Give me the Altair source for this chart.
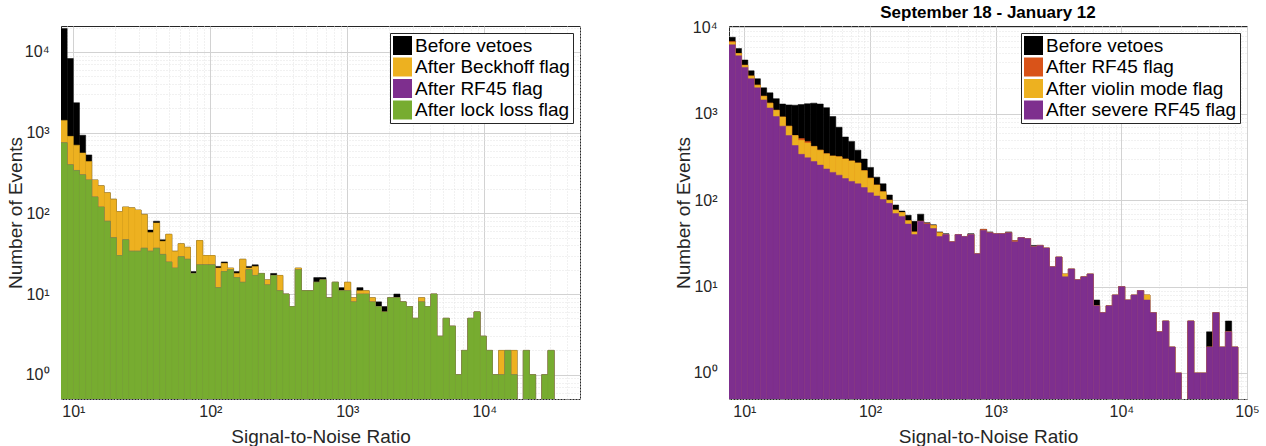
import math

import altair as alt
import pandas as pd

FONT = "Liberation Sans"
TEXT = "#262626"

# ---------------------------------------------------------------------------
# Left panel: event counts per logarithmic SNR bin (80 bins, 0.045 dex wide)
# ---------------------------------------------------------------------------
left_log_start = 0.91
left_log_width = 0.045
left_names = ["Before vetoes", "After Beckhoff flag", "After RF45 flag", "After lock loss flag"]
left_colors = ["#000000", "#EDB120", "#7E2F8E", "#77AC30"]

left_before = [
    19600, 8300, 2350, 930, 530, 260, 220, 180, 150, 105,
    120, 117, 110, 97, 62, 80, 47, 55, 34, 42,
    38, 19, 46, 30, 30, 22, 25, 21, 19, 27,
    22, 23, 18, 15, 18, 17, 10, 7, 21, 11,
    11, 16, 16, 9, 14, 12, 14, 9, 12, 11,
    9, 8, 7, 9, 10, 8, 7, 5, 9, 7,
    10, 3, 5, 4, 1, 2, 5, 6, 3, 2,
    1, 2, 2, 2, 0, 2, 1, 0, 1, 2,
]
left_beckhoff = [
    1420, 900, 700, 560, 440, 260, 220, 180, 150, 105,
    120, 117, 110, 97, 58, 76, 45, 55, 34, 42,
    38, 18, 46, 30, 30, 21, 24, 21, 18, 27,
    21, 22, 18, 15, 17, 17, 10, 7, 21, 11,
    11, 14, 15, 9, 14, 11, 14, 9, 11, 11,
    9, 7, 6, 9, 9, 8, 7, 5, 9, 7,
    10, 3, 5, 4, 1, 2, 5, 6, 3, 2,
    1, 2, 2, 2, 0, 2, 1, 0, 1, 2,
]
left_rf45 = [
    750, 400, 340, 300, 260, 160, 120, 80, 50, 30,
    47, 34, 34, 37, 34, 37, 31, 25, 21, 29,
    27, 18, 23, 23, 23, 12, 19, 20, 16, 14,
    20, 17, 18, 13, 17, 11, 10, 7, 20, 11,
    11, 14, 15, 9, 14, 11, 11, 8, 10, 10,
    8, 7, 6, 9, 9, 8, 7, 5, 8, 7,
    10, 3, 5, 4, 1, 2, 5, 6, 3, 2,
    1, 1, 2, 1, 0, 2, 1, 0, 1, 2,
]
left_lockloss = [
    750, 400, 340, 300, 260, 160, 120, 80, 50, 30,
    47, 34, 34, 37, 34, 37, 31, 25, 21, 29,
    27, 18, 23, 23, 23, 12, 19, 20, 16, 14,
    20, 17, 18, 13, 17, 11, 10, 7, 20, 11,
    11, 14, 15, 9, 14, 11, 11, 8, 10, 10,
    8, 7, 6, 9, 9, 8, 7, 5, 8, 7,
    10, 3, 5, 4, 1, 2, 5, 6, 3, 2,
    1, 1, 2, 1, 0, 2, 1, 0, 1, 2,
]

# ---------------------------------------------------------------------------
# Right panel: September 18 - January 12 (81 bins, 0.05 dex wide)
# ---------------------------------------------------------------------------
right_log_start = 0.878
right_log_width = 0.05
right_names = ["Before vetoes", "After RF45 flag", "After violin mode flag", "After severe RF45 flag"]
right_colors = ["#000000", "#D95319", "#EDB120", "#7E2F8E"]

right_before = [
    7700, 5700, 4200, 3150, 2550, 2000, 1750, 1500, 1300, 1270,
    1260, 1280, 1310, 1330, 1300, 1180, 930, 700, 540, 480,
    380, 300, 240, 185, 155, 115, 88, 75, 67, 57,
    69, 55, 52, 43, 41, 33, 40, 38, 41, 24,
    46, 43, 41, 41, 43, 34, 37, 36, 30, 30,
    28, 17, 22, 14, 16, 12, 13, 14, 7, 5,
    6, 8, 10, 7, 8, 9, 8, 5, 3, 4,
    2, 1, 0, 4, 1, 1, 3, 5, 2, 4, 2,
]
right_rf45 = [
    6900, 5000, 3650, 2750, 2150, 1600, 1330, 1100, 920, 720,
    560, 517, 480, 420, 380, 345, 325, 318, 300, 285,
    270, 220, 180, 150, 125, 100, 77, 72, 58, 43,
    57, 54, 51, 42, 40, 33, 40, 38, 40, 24,
    46, 42, 41, 41, 42, 34, 37, 36, 29, 30,
    28, 17, 22, 14, 16, 12, 13, 14, 6, 5,
    6, 8, 10, 7, 8, 9, 8, 5, 3, 4,
    2, 1, 0, 4, 1, 1, 2, 5, 2, 3, 2,
]
right_violin = [
    6750, 5000, 3650, 2750, 2150, 1600, 1330, 1100, 920, 720,
    560, 494, 460, 420, 380, 345, 325, 318, 300, 285,
    270, 220, 180, 150, 125, 100, 77, 72, 58, 43,
    57, 53, 51, 42, 40, 33, 40, 38, 40, 24,
    45, 42, 41, 41, 42, 33, 37, 36, 29, 30,
    28, 17, 22, 14, 16, 12, 13, 14, 6, 5,
    6, 8, 10, 7, 8, 9, 8, 5, 3, 4,
    2, 1, 0, 4, 1, 1, 2, 5, 2, 3, 2,
]
right_severe = [
    6300, 4700, 3450, 2550, 2000, 1450, 1170, 930, 720, 560,
    430, 340, 310, 280, 255, 230, 210, 195, 178, 165,
    155, 140, 122, 112, 102, 92, 70, 65, 53, 40,
    57, 53, 47, 38, 40, 33, 40, 38, 40, 24,
    45, 42, 41, 41, 42, 33, 37, 36, 29, 30,
    28, 17, 22, 13, 16, 12, 13, 14, 6, 5,
    6, 8, 10, 7, 8, 9, 7, 5, 3, 4,
    2, 1, 0, 4, 1, 1, 2, 5, 2, 3, 2,
]


def hist_frame(names, series, log_start, log_width):
    """Long table of bin edges and counts; empty bins are dropped (log axis)."""
    rows = []
    for name, counts in zip(names, series):
        for k, n in enumerate(counts):
            if n > 0:
                rows.append({
                    "series": name,
                    "lo": 10 ** (log_start + k * log_width),
                    "hi": 10 ** (log_start + (k + 1) * log_width),
                    "n": n,
                })
    return pd.DataFrame(rows)


def log_grid(lo, hi):
    vals = []
    for d in range(math.floor(math.log10(lo)), math.ceil(math.log10(hi)) + 1):
        for m in range(1, 10):
            v = m * 10 ** d
            if lo * (1 - 1e-9) <= v <= hi * (1 + 1e-9):
                vals.append(v)
    return vals


EXP = "round(log(datum.value) / LN10)"
MAJOR = f"abs(log(datum.value) / LN10 - {EXP}) < 1e-6"
LABEL = f"{MAJOR} ? '10' + ['⁰', '¹', '²', '³', '⁴', '⁵'][{EXP}] : ''"


def log_axis(title, values, **kw):
    return alt.Axis(
        title=title,
        values=values,
        labelExpr=LABEL,
        labelOverlap=False,
        labelFlush=False,
        ticks=False,
        domain=False,
        grid=True,
        gridColor={"condition": {"test": MAJOR, "value": "#d2d2d2"}, "value": "#e3e3e3"},
        gridDash={"condition": {"test": MAJOR, "value": []}, "value": [1, 2]},
        gridWidth=1,
        labelFont=FONT,
        labelFontSize=16,
        labelColor=TEXT,
        titleFont=FONT,
        titleFontSize=19,
        titleFontWeight="normal",
        titleColor=TEXT,
        **kw,
    )


def panel(df, names, colors, xdom, ydom, width, height):
    xs = alt.Scale(type="log", domain=xdom, nice=False)
    ys = alt.Scale(type="log", domain=ydom, nice=False)
    xaxis = log_axis("Signal-to-Noise Ratio", log_grid(*xdom), labelPadding=4, titlePadding=8)
    yaxis = log_axis("Number of Events", log_grid(*ydom), labelPadding=12,
                     minExtent=36, maxExtent=36, titlePadding=0)
    legend = alt.Legend(
        title=None,
        orient="top-right",
        offset=7,
        symbolType="square",
        symbolSize=361,
        symbolStrokeWidth=0,
        symbolOpacity=1,
        labelFont=FONT,
        labelFontSize=19,
        labelColor="black",
        labelLimit=400,
        labelOffset=3,
        rowPadding=1.5,
        padding=3,
        strokeColor=TEXT,
        fillColor="white",
    )
    color = alt.Color("series:N", scale=alt.Scale(domain=names, range=colors), legend=legend)
    layers = []
    # draw back to front: later vetoes sit on top of earlier ones
    for name, col in zip(names, colors):
        layers.append(
            alt.Chart(df)
            .transform_filter(alt.datum.series == name)
            .mark_rect(clip=True, stroke=col, strokeWidth=0.5, opacity=1)
            .encode(
                x=alt.X("lo:Q", scale=xs, axis=xaxis),
                x2="hi:Q",
                y=alt.Y("n:Q", scale=ys, axis=yaxis),
                y2=alt.datum(ydom[0]),
                color=color,
            )
        )
    return alt.layer(*layers).properties(width=width, height=height)


left_df = hist_frame(left_names, [left_before, left_beckhoff, left_rf45, left_lockloss],
                     left_log_start, left_log_width)
right_df = hist_frame(right_names, [right_before, right_rf45, right_violin, right_severe],
                      right_log_start, right_log_width)

left = panel(left_df, left_names, left_colors,
             [10 ** 0.91, 5e4], [0.5, 2.1e4], 519, 373)
right = panel(right_df, right_names, right_colors,
              [10 ** 0.878, 1e5], [0.5, 1.04e4], 518, 373).properties(
    title=alt.TitleParams(
        "September 18 - January 12",
        font=FONT,
        fontSize=17,
        fontWeight="bold",
        color="black",
        anchor="middle",
        frame="group",
        offset=-3,
    )
)

chart = (
    alt.hconcat(left, right, spacing=149, bounds="flush")
    .resolve_scale(color="independent")
    .properties(
        padding={"left": 5, "top": 3, "right": 5, "bottom": 0},
        background="white",
    )
    .configure_view(stroke=TEXT, strokeWidth=1)
)

chart.save("out.html", embed_options={"renderer": "svg", "actions": False})
